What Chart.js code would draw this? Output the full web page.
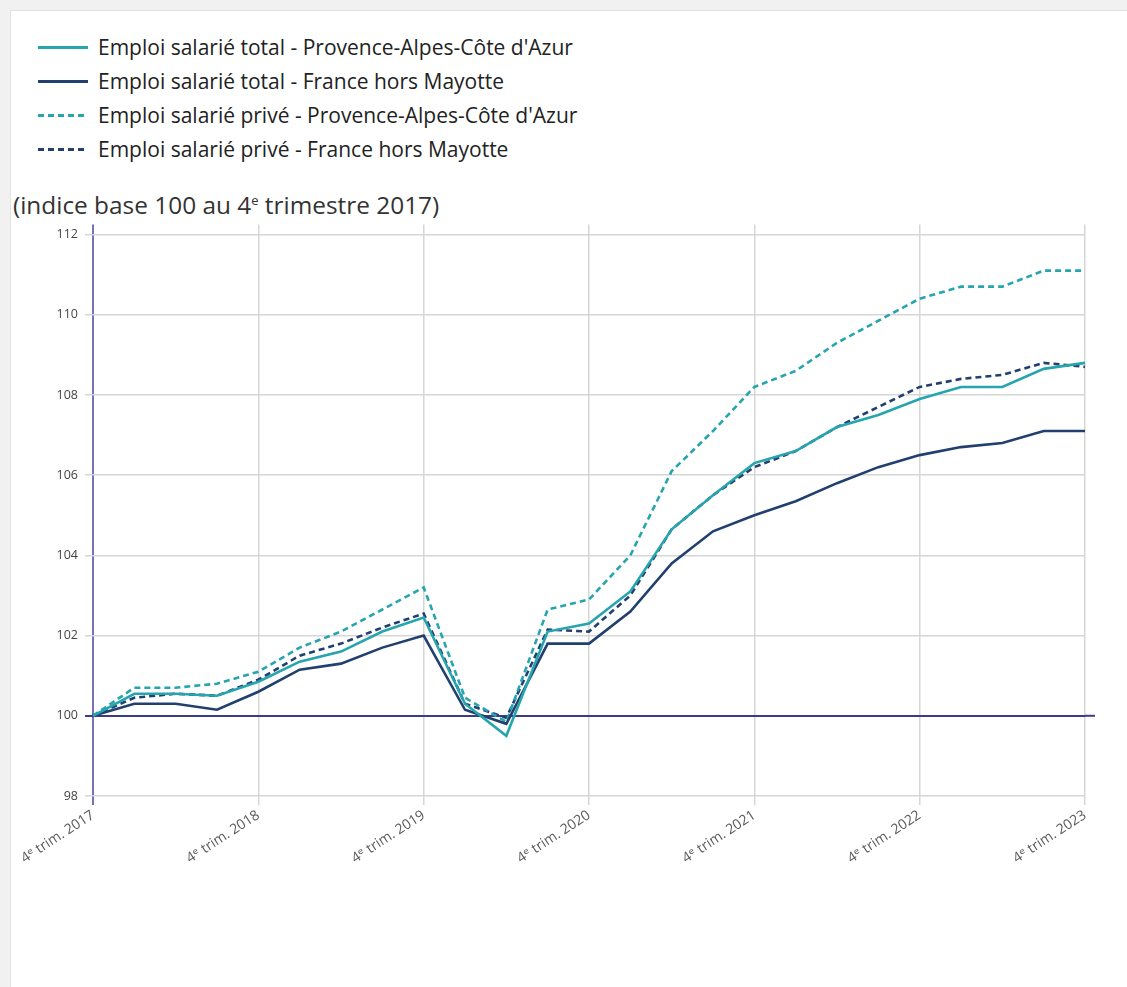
<!DOCTYPE html>
<html lang="fr">
<head>
<meta charset="utf-8">
<script src="https://cdn.jsdelivr.net/npm/chart.js@4.4.1/dist/chart.umd.min.js"></script>
<style>
  html, body { margin: 0; padding: 0; background: #f1f1f1; width: 1127px; height: 987px; overflow: hidden; }
  body { font-family: 'Open Sans', 'DejaVu Sans', sans-serif; color: #222; }
  .panel { position: absolute; left: 10px; top: 10px; width: 1130px; height: 990px; background: #fff; border: 1px solid #e2e2e2; }
  .legend { position: absolute; left: 38px; top: 30px; }
  .legend .item { height: 34px; display: flex; align-items: center; font-size: 21px; color: #222; }
  .legend .item .swatch { width: 50px; height: 3px; margin-right: 10px; flex: none; }
  .title { position: absolute; left: 13px; top: 184px; font-size: 24.4px; line-height: 33px; color: #333; white-space: nowrap; }
  .title sup { font-size: 13px; }
  .wrap { position: absolute; left: 0; top: 210px; width: 1127px; height: 700px; }
</style>
</head>
<body>
<div class="panel"></div>
<div class="legend" id="legend"></div>
<div class="title">(indice base 100 au 4<sup>e</sup> trimestre 2017)</div>
<div class="wrap"><canvas id="chart"></canvas></div>
<script>
// quarters, 4e trim. 2017 -> 4e trim. 2023
const quarters = [
  '4ᵉ trim. 2017', '1ᵉʳ trim. 2018', '2ᵉ trim. 2018', '3ᵉ trim. 2018',
  '4ᵉ trim. 2018', '1ᵉʳ trim. 2019', '2ᵉ trim. 2019', '3ᵉ trim. 2019',
  '4ᵉ trim. 2019', '1ᵉʳ trim. 2020', '2ᵉ trim. 2020', '3ᵉ trim. 2020',
  '4ᵉ trim. 2020', '1ᵉʳ trim. 2021', '2ᵉ trim. 2021', '3ᵉ trim. 2021',
  '4ᵉ trim. 2021', '1ᵉʳ trim. 2022', '2ᵉ trim. 2022', '3ᵉ trim. 2022',
  '4ᵉ trim. 2022', '1ᵉʳ trim. 2023', '2ᵉ trim. 2023', '3ᵉ trim. 2023',
  '4ᵉ trim. 2023'
];

const totalPaca = [100, 100.55, 100.55, 100.5, 100.85, 101.35, 101.6, 102.1, 102.45, 100.3, 99.5, 102.1, 102.3,
  103.1, 104.65, 105.5, 106.3, 106.6, 107.2, 107.5, 107.9, 108.2, 108.2, 108.65, 108.8];
const totalFrance = [100, 100.3, 100.3, 100.15, 100.6, 101.15, 101.3, 101.7, 102.0, 100.15, 99.8, 101.8, 101.8,
  102.6, 103.8, 104.6, 105.0, 105.35, 105.8, 106.2, 106.5, 106.7, 106.8, 107.1, 107.1];
const priveePaca = [100, 100.7, 100.7, 100.8, 101.1, 101.7, 102.1, 102.65, 103.2, 100.45, 99.85, 102.65, 102.9,
  104.0, 106.1, 107.1, 108.2, 108.6, 109.3, 109.85, 110.4, 110.7, 110.7, 111.1, 111.1];
const priveeFrance = [100, 100.45, 100.55, 100.5, 100.9, 101.5, 101.8, 102.2, 102.55, 100.3, 99.95, 102.15, 102.1,
  103.0, 104.65, 105.5, 106.2, 106.6, 107.2, 107.7, 108.2, 108.4, 108.5, 108.8, 108.7];

const yTicks = [98, 100, 102, 104, 106, 108, 110, 112];

const TEAL = '#27a5ae';
const NAVY = '#21406f';
const AXIS = '#7672b4';
const BASE = '#3b3d83';
const GRID = '#d6d6d6';

const series = [
  { label: 'Emploi salarié total - Provence-Alpes-Côte d\'Azur', data: totalPaca, color: TEAL, dash: [] },
  { label: 'Emploi salarié total - France hors Mayotte', data: totalFrance, color: NAVY, dash: [] },
  { label: 'Emploi salarié privé - Provence-Alpes-Côte d\'Azur', data: priveePaca, color: TEAL, dash: [6, 4] },
  { label: 'Emploi salarié privé - France hors Mayotte', data: priveeFrance, color: NAVY, dash: [6, 4] }
];

// html legend
const legendEl = document.getElementById('legend');
series.forEach(s => {
  const row = document.createElement('div');
  row.className = 'item';
  const sw = document.createElement('span');
  sw.className = 'swatch';
  sw.style.background = s.dash.length
    ? `repeating-linear-gradient(90deg, ${s.color} 0 6px, transparent 6px 10px)`
    : s.color;
  const txt = document.createElement('span');
  txt.textContent = s.label;
  row.appendChild(sw);
  row.appendChild(txt);
  legendEl.appendChild(row);
});

// base 100 line runs a little past the plot on the right
const baseLineExt = {
  id: 'baseLineExt',
  beforeDatasetsDraw(chart) {
    const { ctx, chartArea, scales } = chart;
    const y = scales.y.getPixelForValue(100);
    ctx.save();
    ctx.strokeStyle = BASE;
    ctx.lineWidth = 2;
    ctx.beginPath();
    ctx.moveTo(chartArea.right, y);
    ctx.lineTo(chartArea.right + 10, y);
    ctx.stroke();
    ctx.restore();
  }
};

new Chart(document.getElementById('chart'), {
  type: 'line',
  data: {
    labels: quarters,
    datasets: series.map(s => ({
      label: s.label,
      data: s.data,
      borderColor: s.color,
      backgroundColor: s.color,
      borderDash: s.dash,
      borderWidth: 2.6,
      pointRadius: 0,
      tension: 0,
      fill: false
    }))
  },
  options: {
    responsive: true,
    maintainAspectRatio: false,
    animation: false,
    layout: { padding: { top: 12, right: 42, bottom: 0, left: 0 } },
    plugins: { legend: { display: false }, tooltip: { enabled: false } },
    scales: {
      x: {
        afterFit(scale) { scale.height = 114; },
        border: { display: false },
        grid: {
          color: c => c.index === 0 ? AXIS : (c.index % 4 === 0 ? GRID : 'transparent'),
          lineWidth: c => c.index === 0 ? 2 : 1.5,
          tickLength: 9
        },
        ticks: {
          autoSkip: false,
          minRotation: 33,
          maxRotation: 33,
          padding: 2,
          color: '#5a5a5a',
          font: { family: "'Open Sans', 'DejaVu Sans', sans-serif", size: 14 },
          callback(val, i) { return i % 4 === 0 ? this.getLabelForValue(val) : ''; }
        }
      },
      y: {
        min: 98,
        max: 112.25,
        afterFit(scale) { scale.width = 93; },
        afterBuildTicks(scale) { scale.ticks = yTicks.map(v => ({ value: v })); },
        border: { display: false },
        grid: {
          color: c => c.tick && c.tick.value === 100 ? BASE : GRID,
          lineWidth: c => c.tick && c.tick.value === 100 ? 2 : 1.5,
          tickLength: 8
        },
        ticks: {
          padding: 7,
          color: '#444',
          font: { family: "'Open Sans', 'DejaVu Sans', sans-serif", size: 12.5 }
        }
      }
    }
  },
  plugins: [baseLineExt]
});
</script>
</body>
</html>
